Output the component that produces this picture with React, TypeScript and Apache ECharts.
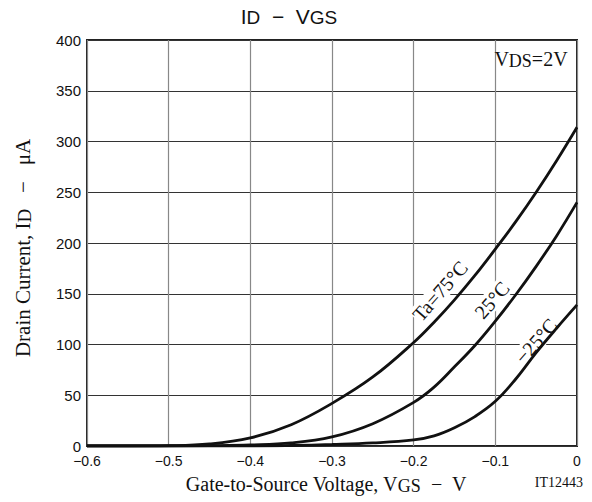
import React, { useEffect, useRef } from "react";
import * as echarts from "echarts";

const vgs = [-0.6, -0.55, -0.5, -0.45, -0.4, -0.35, -0.3, -0.25, -0.2, -0.175, -0.15, -0.125, -0.1, -0.075, -0.05, -0.025, 0];
const id75 = [0, 0, 0.3, 2, 8, 21, 42, 68, 102, 122, 144, 168, 194, 221, 250, 281, 314];
const id25 = [0, 0, 0, 0.3, 1, 3, 9, 22, 43, 58, 78, 99, 123, 149, 177, 207, 240];
const idM25 = [0, 0, 0, 0, 0, 0.5, 1.5, 3, 6, 10, 18, 29, 44, 66, 92, 116, 139];
const seriesNames = ["Ta=75°C", "25°C", "−25°C"];
const xTicks = { min: -0.6, max: 0, interval: 0.1 };
const yTicks = { min: 0, max: 400, interval: 50 };

const SERIF = "'Liberation Serif', 'DejaVu Serif', serif";
const SANS = "'Liberation Sans', Arial, sans-serif";

const rt = (size: number, sub: number, family: string, lh: number, slh: number) => ({
  m: { fontSize: size, fontFamily: family, color: "#111", lineHeight: lh },
  s: { fontSize: sub, fontFamily: family, color: "#111", lineHeight: slh, verticalAlign: "bottom" },
});

export default function App() {
  const ref = useRef<HTMLDivElement>(null);
  useEffect(() => {
    if (!ref.current) return;
    const chart = echarts.init(ref.current, null, { renderer: "svg" });
    const mk = (arr: number[]) => vgs.map((x, i) => [x, arr[i]]);
    const lineSeries = [id75, id25, idM25].map((arr, i) => ({
      name: seriesNames[i],
      type: "line",
      data: mk(arr),
      smooth: 0.4,
      symbol: "none",
      lineStyle: { color: "#111", width: 2.8 },
      z: 5,
    }));
    const curveLabel = (text: string, x: number, y: number) => ({
      type: "text",
      x,
      y,
      rotation: 0.85,
      z: 3,
      style: {
        text,
        fontSize: 20,
        fontFamily: SERIF,
        fill: "#111",
        align: "center",
        verticalAlign: "middle",
        backgroundColor: "#fff",
        padding: [0, 1],
      },
    });
    chart.setOption({
      animation: false,
      backgroundColor: "#fff",
      grid: {
        left: 87,
        right: 15,
        top: 40,
        bottom: 56,
        show: true,
        borderColor: "#222",
        borderWidth: 2,
        backgroundColor: "transparent",
      },
      xAxis: {
        type: "value",
        min: xTicks.min,
        max: xTicks.max,
        interval: xTicks.interval,
        axisLine: { show: false },
        axisTick: { show: false },
        axisLabel: {
          color: "#111",
          fontFamily: SANS,
          fontSize: 14,
          margin: 8,
          formatter: (v: number) => (Math.abs(v) < 1e-9 ? "0" : "−" + Math.abs(v).toFixed(1)),
        },
        splitLine: { show: true, lineStyle: { color: "#888", width: 1.2 } },
      },
      yAxis: {
        type: "value",
        min: yTicks.min,
        max: yTicks.max,
        interval: yTicks.interval,
        axisLine: { show: false },
        axisTick: { show: false },
        axisLabel: { color: "#111", fontFamily: SANS, fontSize: 15, margin: 6 },
        splitLine: { show: true, lineStyle: { color: "#333", width: 1.2 } },
      },
      series: lineSeries,
      graphic: [
        {
          type: "text",
          x: 289,
          y: 16,
          style: {
            text: "{m|I}{s|D}{m|  −  V}{s|GS}",
            align: "center",
            verticalAlign: "middle",
            fill: "#111",
            rich: rt(21, 19, SANS, 22, 14),
          },
        },
        {
          type: "text",
          x: 531,
          y: 59,
          z: 10,
          style: {
            text: "{m|V}{s|DS}{m|=2V}",
            align: "center",
            verticalAlign: "middle",
            fill: "#111",
            rich: rt(20, 18, SERIF, 22, 13),
          },
        },
        {
          type: "text",
          x: 23,
          y: 248,
          rotation: Math.PI / 2,
          style: {
            text: "{m|Drain Current, I}{s|D}{m|   −   μA}",
            align: "center",
            verticalAlign: "middle",
            fill: "#111",
            rich: rt(21, 19, SERIF, 22, 13),
          },
        },
        {
          type: "text",
          x: 326,
          y: 484,
          style: {
            text: "{m|Gate-to-Source Voltage, V}{s|GS}{m|  −  V}",
            align: "center",
            verticalAlign: "middle",
            fill: "#111",
            rich: rt(20, 18, SERIF, 22, 13),
          },
        },
        {
          type: "text",
          x: 583,
          y: 482,
          style: {
            text: "IT12443",
            fontSize: 14,
            fontFamily: SERIF,
            fill: "#111",
            align: "right",
            verticalAlign: "middle",
          },
        },
        curveLabel(seriesNames[0], 440, 291),
        curveLabel(seriesNames[1], 492, 300),
        curveLabel(seriesNames[2], 536, 341),
      ],
    });
    return () => chart.dispose();
  }, []);
  return <div ref={ref} style={{ width: 592, height: 502, position: "absolute", left: 0, top: 0 }} />;
}
